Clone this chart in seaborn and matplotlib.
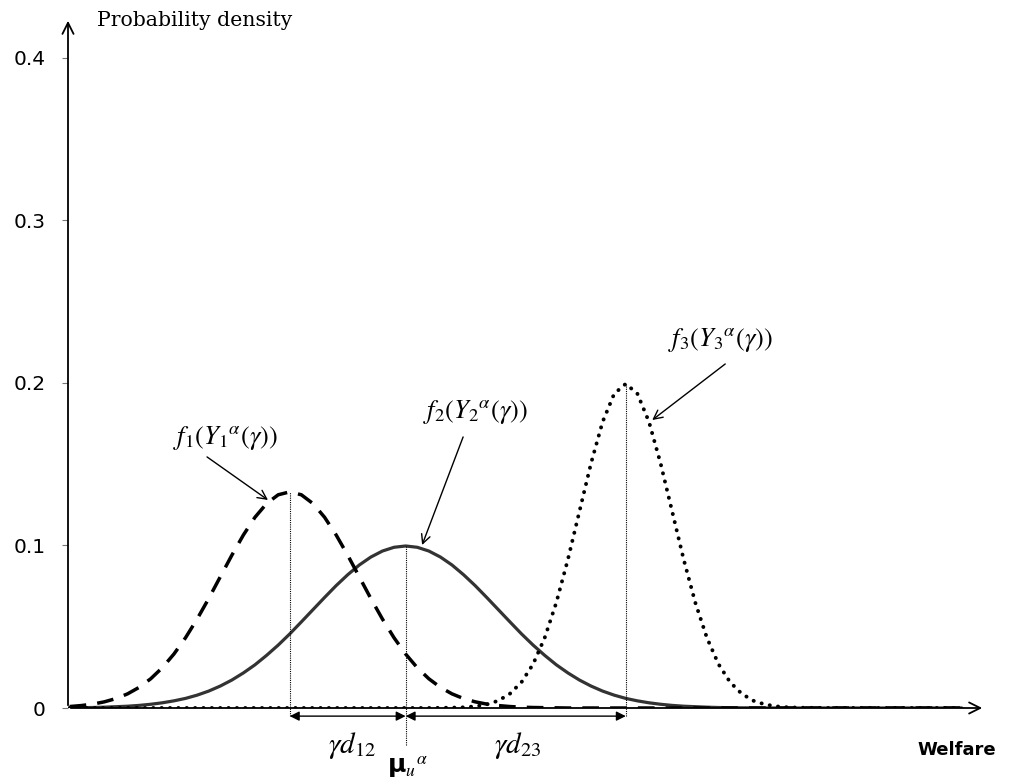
import numpy as np
import pandas as pd
import matplotlib
matplotlib.use("Agg")
import matplotlib.pyplot as plt
import seaborn as sns

# welfare grid and the three densities
welfare = [0.5, 1.0, 1.5, 2.0, 2.5, 3.0, 3.5, 4.0, 4.5, 5.0,
           5.5, 6.0, 6.5, 7.0, 7.5, 8.0, 8.5, 9.0, 9.5, 10.0,
           10.5, 11.0, 11.5, 12.0, 12.5, 13.0, 13.5, 14.0, 14.5, 15.0,
           15.5, 16.0, 16.5, 17.0, 17.5, 18.0, 18.5, 19.0, 19.5, 20.0,
           20.5, 21.0, 21.5, 22.0, 22.5, 23.0, 23.5, 24.0, 24.5, 25.0,
           25.5, 26.0, 26.5, 27.0, 27.5, 28.0, 28.5, 29.0, 29.5, 30.0,
           30.5, 31.0, 31.5, 32.0, 32.5, 33.0, 33.5, 34.0, 34.5, 35.0,
           35.5, 36.0, 36.5, 37.0, 37.5, 38.0, 38.5, 39.0]

f1 = [0.0009, 0.0015, 0.0024, 0.0038, 0.0058, 0.0087, 0.0127, 0.0180, 0.0248, 0.0332,
      0.0432, 0.0547, 0.0673, 0.0807, 0.0940, 0.1065, 0.1174, 0.1258, 0.1312, 0.1330,
      0.1312, 0.1258, 0.1174, 0.1065, 0.0940, 0.0807, 0.0673, 0.0547, 0.0432, 0.0332,
      0.0248, 0.0180, 0.0127, 0.0087, 0.0058, 0.0038, 0.0024, 0.0015, 0.0009, 0.0005,
      0.0003, 0.0002, 0.0001, 0, 0, 0, 0, 0, 0, 0,
      0, 0, 0, 0, 0, 0, 0, 0, 0, 0,
      0, 0, 0, 0, 0, 0, 0, 0, 0, 0,
      0, 0, 0, 0, 0, 0, 0, 0]

f2 = [0.0001, 0.0002, 0.0003, 0.0005, 0.0008, 0.0011, 0.0016, 0.0023, 0.0032, 0.0044,
      0.0059, 0.0079, 0.0104, 0.0135, 0.0172, 0.0216, 0.0266, 0.0324, 0.0387, 0.0456,
      0.0530, 0.0605, 0.0680, 0.0753, 0.0820, 0.0880, 0.0929, 0.0966, 0.0989, 0.0997,
      0.0989, 0.0966, 0.0929, 0.0880, 0.0820, 0.0753, 0.0680, 0.0605, 0.0530, 0.0456,
      0.0387, 0.0324, 0.0266, 0.0216, 0.0172, 0.0135, 0.0104, 0.0079, 0.0059, 0.0044,
      0.0032, 0.0023, 0.0016, 0.0011, 0.0008, 0.0005, 0.0003, 0.0002, 0.0001, 0.0001,
      0, 0, 0, 0, 0, 0, 0, 0, 0, 0,
      0, 0, 0, 0, 0, 0, 0, 0]

f3 = [0, 0, 0, 0, 0, 0, 0, 0, 0, 0,
      0, 0, 0, 0, 0, 0, 0, 0, 0, 0,
      0, 0, 0, 0, 0, 0, 0, 0, 0, 0,
      0, 0, 0.0001, 0.0002, 0.0004, 0.0010, 0.0022, 0.0045, 0.0088, 0.0159,
      0.0270, 0.0432, 0.0648, 0.0913, 0.1210, 0.1506, 0.1761, 0.1934, 0.1995, 0.1934,
      0.1761, 0.1506, 0.1210, 0.0913, 0.0648, 0.0432, 0.0270, 0.0159, 0.0088, 0.0045,
      0.0022, 0.0010, 0.0004, 0.0002, 0.0001, 0, 0, 0, 0, 0,
      0, 0, 0, 0, 0, 0, 0, 0]

y_ticks = [0, 0.1, 0.2, 0.3, 0.4]
y_tick_labels = ["0", "0.1", "0.2", "0.3", "0.4"]

sns.set_theme(style="white")
plt.rcParams["mathtext.fontset"] = "stix"
plt.rcParams["text.color"] = "black"

fig = plt.figure(figsize=(10.11, 7.83), dpi=100)
ax = fig.add_axes([68 / 1011, 1 - 708 / 783, 917 / 1011, 690 / 783])

df = pd.DataFrame({"welfare": welfare, "f1": f1, "f2": f2, "f3": f3})
sns.lineplot(data=df, x="welfare", y="f2", ax=ax, color="#333333", lw=2.3)
sns.lineplot(data=df, x="welfare", y="f1", ax=ax, color="black", lw=2.5,
             linestyle=(0, (4.8, 3.2)))
sns.lineplot(data=df, x="welfare", y="f3", ax=ax, color="black", lw=2.8,
             linestyle=(0, (0.05, 2.1)), dash_capstyle="round")

ax.set_xlim(0.43, 40)
ax.set_ylim(0, 0.4246)
ax.set_xlabel("")
ax.set_ylabel("")
ax.set_xticks([])
ax.set_yticks(y_ticks)
ax.set_yticklabels(y_tick_labels, fontsize=14.5, color="black")
ax.tick_params(axis="y", direction="out", length=4, width=0.8, color="#777777",
               left=True, pad=12)
for s in ax.spines.values():
    s.set_visible(False)

# axes with open arrowheads
ax.annotate("", xy=(0, 1), xytext=(0, 0), xycoords="axes fraction",
            arrowprops=dict(arrowstyle="->", lw=1.3, color="black", mutation_scale=20))
ax.annotate("", xy=(1, 0), xytext=(0, 0), xycoords="axes fraction",
            arrowprops=dict(arrowstyle="->", lw=1.3, color="black", mutation_scale=20))

# peak positions from the data
peaks = []
for ys in (f1, f2, f3):
    i = int(np.argmax(ys))
    peaks.append((welfare[i], ys[i]))

drops = [-0.005, -0.023, -0.005]
for (px, py), d in zip(peaks, drops):
    ax.vlines(px, d, py, colors="black", linestyles=(0, (1, 1)), lw=0.8, clip_on=False)

# distance arrows
arr_y = -0.005
for a, b in ((peaks[0][0], peaks[1][0]), (peaks[1][0], peaks[2][0])):
    ax.annotate("", xy=(b, arr_y), xytext=(a, arr_y), annotation_clip=False,
                arrowprops=dict(arrowstyle="<|-|>", lw=1.0, color="black",
                                mutation_scale=14, shrinkA=0, shrinkB=0))

ax.text(12.7, -0.0228, r"$\gamma d_{\mathit{12}}$", fontsize=21, ha="center", va="center")
ax.text(19.85, -0.0228, r"$\gamma d_{\mathit{23}}$", fontsize=21, ha="center", va="center")
ax.text(14.2, -0.0406, "μ" + r"$_{\mathit{u}}{}^{\alpha}$", fontsize=18, fontweight="bold",
        ha="left", va="baseline")

# curve labels
labels = [r"$f_1(Y_1{}^{\alpha}(\gamma))$", r"$f_2(Y_2{}^{\alpha}(\gamma))$",
          r"$f_3(Y_3{}^{\alpha}(\gamma))$"]
label_pos = [(7.25, 0.166), (18.0, 0.182), (28.57, 0.2265)]
arrow_tail = [(6.43, 0.1545), (17.48, 0.1668), (28.79, 0.2117)]
arrow_tip = [(9.06, 0.128), (15.71, 0.1003), (25.64, 0.1772)]
for lab, pos, tail, tip in zip(labels, label_pos, arrow_tail, arrow_tip):
    ax.text(pos[0], pos[1], lab, fontsize=19, ha="center", va="center")
    ax.annotate("", xy=tip, xytext=tail,
                arrowprops=dict(arrowstyle="->", lw=1.0, color="black",
                                mutation_scale=16, shrinkA=0, shrinkB=0))

fig.text(97 / 1011, 1 - 21 / 783, "Probability density", fontsize=14.7,
         family="DejaVu Serif", ha="left", va="center")
fig.text(957 / 1011, 1 - 750 / 783, "Welfare", fontsize=13, fontweight="bold",
         ha="center", va="center")

fig.savefig("out.png", dpi=100, facecolor="white")
